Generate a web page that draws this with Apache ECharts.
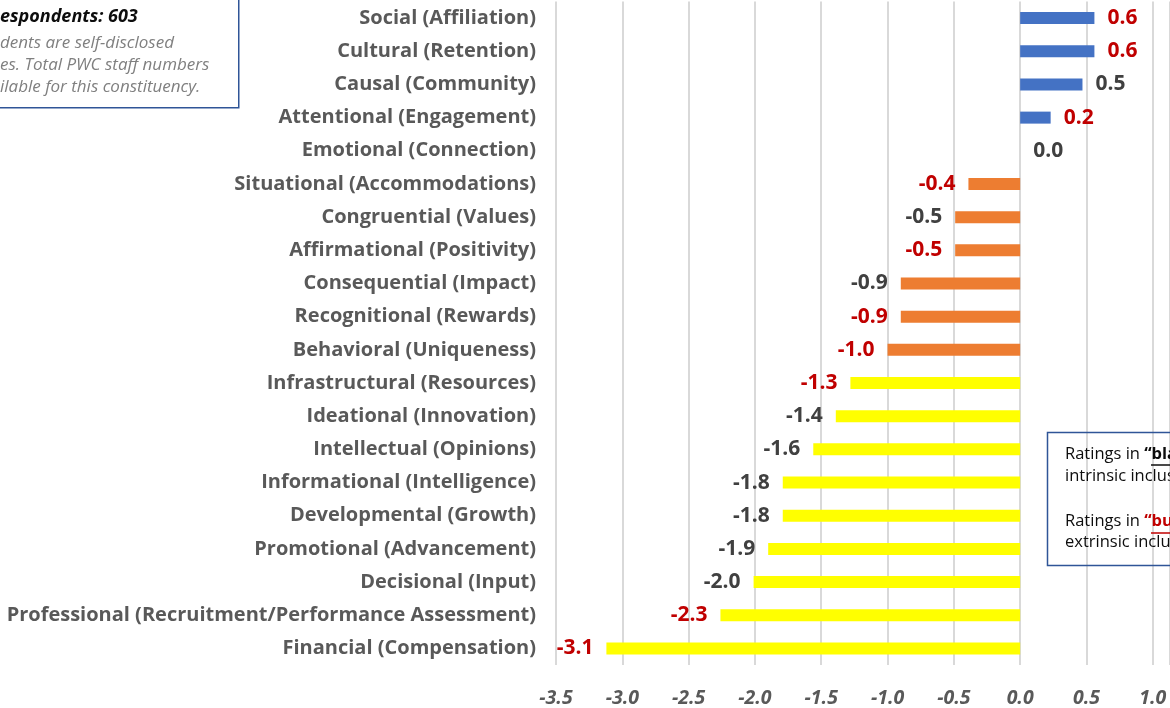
<!DOCTYPE html>
<html>
<head>
<meta charset="utf-8">
<script src="https://cdn.jsdelivr.net/npm/echarts@6/dist/echarts.min.js"></script>
<style>
    html, body { margin: 0; padding: 0; background: #fff; }
    #main { width: 1170px; height: 708px; }
</style>
</head>
<body>
<div id="main"></div>
<script>
// 类别（从上到下）
var categories = [
    'Social (Affiliation)',
    'Cultural (Retention)',
    'Causal (Community)',
    'Attentional (Engagement)',
    'Emotional (Connection)',
    'Situational (Accommodations)',
    'Congruential (Values)',
    'Affirmational (Positivity)',
    'Consequential (Impact)',
    'Recognitional (Rewards)',
    'Behavioral (Uniqueness)',
    'Infrastructural (Resources)',
    'Ideational (Innovation)',
    'Intellectual (Opinions)',
    'Informational (Intelligence)',
    'Developmental (Growth)',
    'Promotional (Advancement)',
    'Decisional (Input)',
    'Professional (Recruitment/Performance Assessment)',
    'Financial (Compensation)'
];
// 评分
var ratings = [0.56, 0.56, 0.47, 0.23, 0.0, -0.39, -0.49, -0.49, -0.90, -0.90,
    -1.0, -1.28, -1.39, -1.56, -1.79, -1.79, -1.90, -2.01, -2.26, -3.12];
// 红色标签（extrinsic）
var extrinsic = [true, true, false, true, false, true, false, true, false, true,
    true, true, false, false, false, false, false, false, true, true];
// 刻度
var xMin = -3.5;
var xMax = 1.13; // 图片右侧被裁切

var myChart = echarts.init(document.getElementById('main'));

var barColor = function (v) {
    if (v > 0.001) return '#4472C4';
    if (v >= -1.05 && v < -0.001) return '#ED7D31';
    return '#FFFF00';
};

var seriesData = [];
for (var i = 0; i < ratings.length; i++) {
    var v = ratings[i];
    seriesData.push({
        value: v,
        itemStyle: { color: barColor(v) },
        label: {
            position: v >= 0 ? 'right' : 'left',
            color: extrinsic[i] ? '#C00000' : '#404040'
        }
    });
}

var font = '"Open Sans", Lato, sans-serif';

var option = {
    animation: false,
    backgroundColor: '#fff',
    grid: { left: 556, right: 0, top: 1.5, bottom: 40, containLabel: false },
    xAxis: {
        type: 'value',
        min: xMin,
        max: xMax,
        interval: 0.5,
        axisLine: { show: false },
        axisTick: { show: false },
        splitLine: { lineStyle: { color: '#D9D9D9', width: 2 } },
        axisLabel: {
            margin: 23,
            showMaxLabel: false,
            fontFamily: font,
            fontSize: 19.5,
            fontWeight: 'bold',
            fontStyle: 'italic',
            color: '#595959',
            formatter: function (v) { return v.toFixed(1); }
        }
    },
    yAxis: {
        type: 'category',
        inverse: true,
        data: categories,
        axisLine: { show: false },
        axisTick: { show: false },
        axisLabel: {
            margin: 20,
            fontFamily: font,
            fontSize: 20,
            fontWeight: 'bold',
            color: '#595959'
        }
    },
    series: [{
        type: 'bar',
        barWidth: 12,
        data: seriesData,
        label: {
            show: true,
            distance: 13,
            fontFamily: font,
            fontSize: 21,
            fontWeight: 'bold',
            formatter: function (p) { return p.value.toFixed(1); }
        }
    }],
    graphic: [
        // 左上说明框
        {
            type: 'rect', left: -5, top: -5, z: 10,
            shape: { width: 243, height: 112 },
            style: { fill: '#fff', stroke: '#2F5597', lineWidth: 1.5 }
        },
        {
            type: 'text', left: 0, top: 8, z: 11,
            style: { text: 'espondents: 603', font: 'italic bold 18px ' + font, fill: '#0D0D0D' }
        },
        {
            type: 'text', left: 0, top: 35, z: 11,
            style: { text: 'dents are self-disclosed', font: 'italic 17px ' + font, fill: '#7F7F7F' }
        },
        {
            type: 'text', left: 0, top: 57, z: 11,
            style: { text: 'es. Total PWC staff numbers', font: 'italic 17px ' + font, fill: '#7F7F7F' }
        },
        {
            type: 'text', left: 0, top: 79, z: 11,
            style: { text: 'ilable for this constituency.', font: 'italic 17px ' + font, fill: '#7F7F7F' }
        },
        // 右侧说明框
        {
            type: 'rect', left: 1045, top: 430, z: 10,
            shape: { width: 200, height: 133 },
            style: { fill: 'none', stroke: '#2F5597', lineWidth: 1.5 }
        },
        {
            type: 'text', left: 1065, top: 446, z: 11,
            style: {
                text: 'Ratings in {b|“black”}',
                font: '16.5px ' + font, fill: '#0D0D0D',
                rich: { b: { fontFamily: font, fontSize: 16.5, fontWeight: 'bold', fill: '#0D0D0D' } }
            }
        },
        {
            type: 'line', z: 11,
            shape: { x1: 1151, y1: 465, x2: 1175, y2: 465 },
            style: { stroke: '#0D0D0D', lineWidth: 1.5 }
        },
        {
            type: 'text', left: 1065, top: 468, z: 11,
            style: { text: 'intrinsic inclusion', font: '16.5px ' + font, fill: '#0D0D0D' }
        },
        {
            type: 'text', left: 1065, top: 513, z: 11,
            style: {
                text: 'Ratings in {r|“burgundy”}',
                font: '16.5px ' + font, fill: '#0D0D0D',
                rich: { r: { fontFamily: font, fontSize: 16.5, fontWeight: 'bold', fill: '#C00000' } }
            }
        },
        {
            type: 'line', z: 11,
            shape: { x1: 1151, y1: 533, x2: 1175, y2: 533 },
            style: { stroke: '#C00000', lineWidth: 1.5 }
        },
        {
            type: 'text', left: 1065, top: 534, z: 11,
            style: { text: 'extrinsic inclusion', font: '16.5px ' + font, fill: '#0D0D0D' }
        }
    ]
};

myChart.setOption(option);
</script>
</body>
</html>
